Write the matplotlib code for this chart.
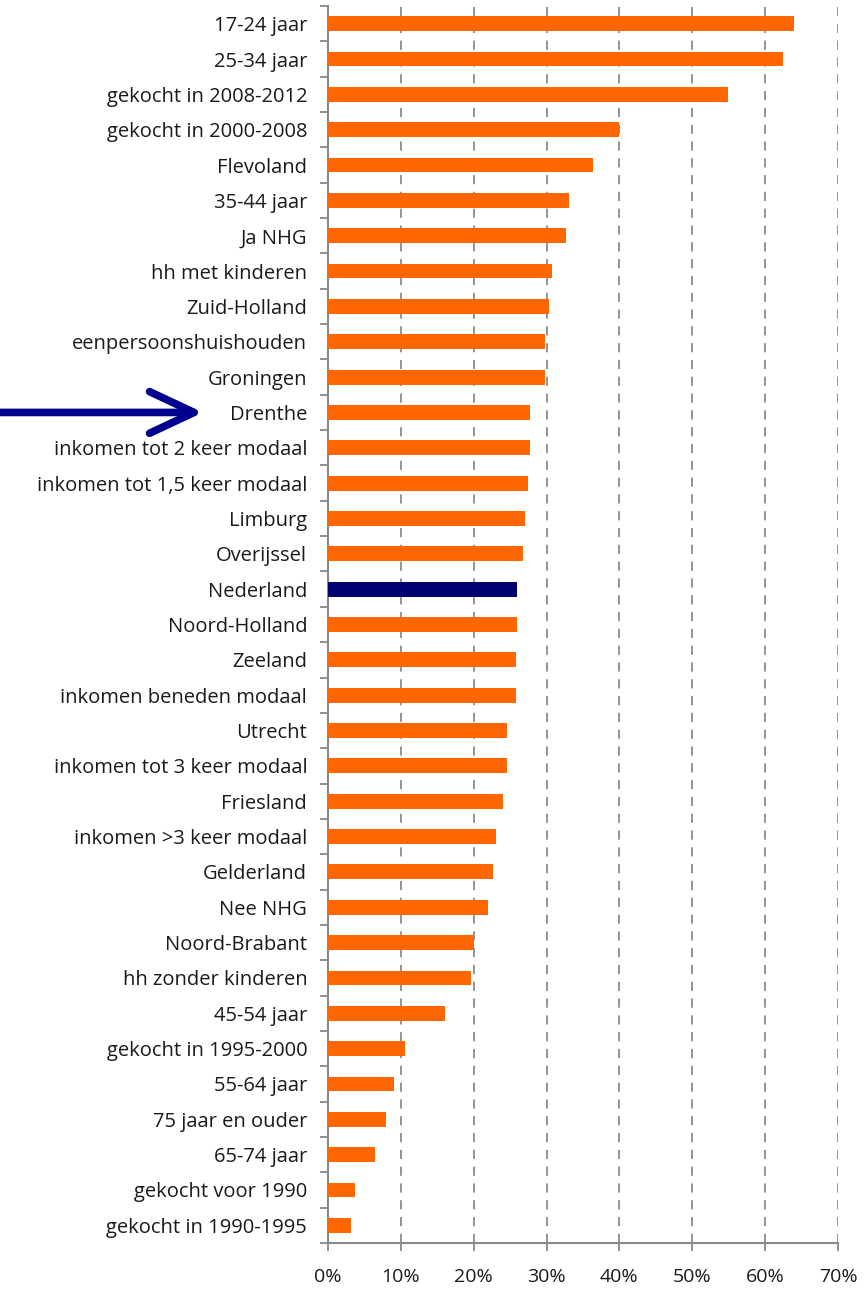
import numpy as np
import matplotlib
matplotlib.use('Agg')
import matplotlib.pyplot as plt
from matplotlib.ticker import PercentFormatter

categories = ['17-24 jaar', '25-34 jaar', 'gekocht in 2008-2012', 'gekocht in 2000-2008',
              'Flevoland', '35-44 jaar', 'Ja NHG', 'hh met kinderen', 'Zuid-Holland',
              'eenpersoonshuishouden', 'Groningen', 'Drenthe', 'inkomen tot 2 keer modaal',
              'inkomen tot 1,5 keer modaal', 'Limburg', 'Overijssel', 'Nederland',
              'Noord-Holland', 'Zeeland', 'inkomen beneden modaal', 'Utrecht',
              'inkomen tot 3 keer modaal', 'Friesland', 'inkomen >3 keer modaal',
              'Gelderland', 'Nee NHG', 'Noord-Brabant', 'hh zonder kinderen', '45-54 jaar',
              'gekocht in 1995-2000', '55-64 jaar', '75 jaar en ouder', '65-74 jaar',
              'gekocht voor 1990', 'gekocht in 1990-1995']
values = [64.0, 62.4, 54.9, 40.0, 36.4, 33.1, 32.6, 30.8, 30.3, 29.8, 29.8, 27.7, 27.7,
          27.5, 27.0, 26.8, 26.0, 26.0, 25.8, 25.8, 24.5, 24.5, 24.0, 23.0, 22.7, 22.0,
          20.1, 19.6, 16.1, 10.6, 9.0, 8.0, 6.5, 3.7, 3.2]
highlight = 'Nederland'
pointer = 'Drenthe'

plt.rcParams['font.family'] = ['Open Sans', 'DejaVu Sans']

fig = plt.figure(figsize=(8.65, 12.91), dpi=100)
ax = fig.add_axes([328 / 865, 1 - 1243 / 1291, 510 / 865, (1243 - 6) / 1291])

y = np.arange(len(categories))
colors = ['#000070' if c == highlight else '#FF6600' for c in categories]
ax.barh(y, values, height=0.42, color=colors, zorder=3)

ax.set_ylim(len(categories) - 0.5, -0.5)
ax.set_xlim(0, 70)
ax.set_xticks(np.arange(0, 71, 10))
ax.xaxis.set_major_formatter(PercentFormatter(decimals=0))

ax.set_yticks(y)
ax.set_yticklabels(categories)
ax.tick_params(axis='y', length=0, pad=15, labelsize=14.5, colors='#1a1a1a')
ax.set_yticks(np.arange(-0.5, len(categories), 1), minor=True)
ax.tick_params(axis='y', which='minor', length=6, width=1.3, color='#888888')
ax.tick_params(axis='x', length=6, width=1.3, color='#888888', pad=12,
               labelsize=14, labelcolor='#1a1a1a')

ax.grid(axis='x', linestyle=(0, (6, 5)), color='#777777', linewidth=1.1, zorder=0)
for side in ['top', 'right']:
    ax.spines[side].set_visible(False)
for side in ['left', 'bottom']:
    ax.spines[side].set_color('#888888')
    ax.spines[side].set_linewidth(1.5)

# pijl naar Drenthe
yp = categories.index(pointer)
ax.annotate('', xy=(203 / 865, yp), xytext=(0, yp),
            xycoords=('figure fraction', 'data'), textcoords=('figure fraction', 'data'),
            arrowprops=dict(arrowstyle='->,head_length=3.2,head_width=1.5',
                            color='#000090', lw=5.5, capstyle='round',
                            joinstyle='round', shrinkA=0, shrinkB=0),
            annotation_clip=False)

fig.savefig('out.png', dpi=100)
